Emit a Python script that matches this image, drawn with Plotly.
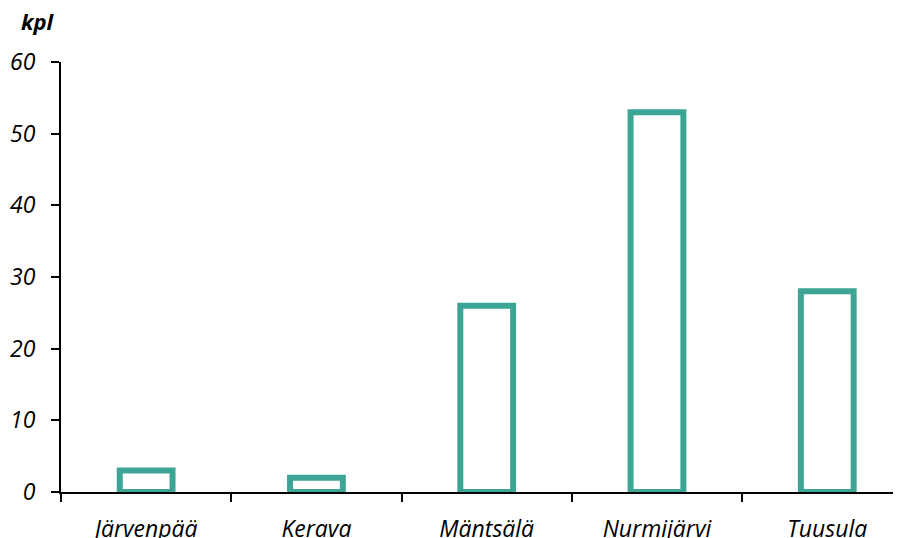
import plotly.graph_objects as go

kunnat = ["Järvenpää", "Kerava", "Mäntsälä", "Nurmijärvi", "Tuusula"]
kpl = [3, 2, 26, 53, 28]
y_ticks = [0, 10, 20, 30, 40, 50, 60]

teal = "#3DA596"
fnt = "Open Sans"

fig = go.Figure()
fig.add_trace(go.Bar(x=kunnat, y=kpl, width=0.31,
                     marker=dict(color="white", line=dict(color=teal, width=6))))

# page body has an 8px margin -> figure is 8px smaller so it fits the window
fig.update_layout(
    width=893, height=530,
    paper_bgcolor="white", plot_bgcolor="white",
    margin=dict(l=53, r=0, t=54, b=46, autoexpand=False),
    showlegend=False,
    font=dict(family=fnt, size=23, color="black"),
    annotations=[dict(text="<b><i>kpl</i></b>", xref="paper", yref="paper",
                      x=-0.05, y=1.056, xanchor="left", yanchor="bottom",
                      showarrow=False, font=dict(family=fnt, size=22))],
)
fig.update_xaxes(type="category", range=[-0.5, 4.433], tickson="boundaries",
                 ticks="outside", ticklen=8, tickwidth=2, tickcolor="black",
                 showline=True, linecolor="black", linewidth=2,
                 showgrid=False, ticklabelstandoff=15, automargin=False,
                 tickfont=dict(family=fnt, size=23, style="italic"))
fig.update_yaxes(range=[0, 60], tickvals=y_ticks,
                 ticks="outside", ticklen=8, tickwidth=2, tickcolor="black",
                 showline=True, linecolor="black", linewidth=2,
                 showgrid=False, zeroline=False, ticklabelstandoff=11,
                 automargin=False,
                 tickfont=dict(family=fnt, size=23, style="italic"))

fig.write_html("out.html")
